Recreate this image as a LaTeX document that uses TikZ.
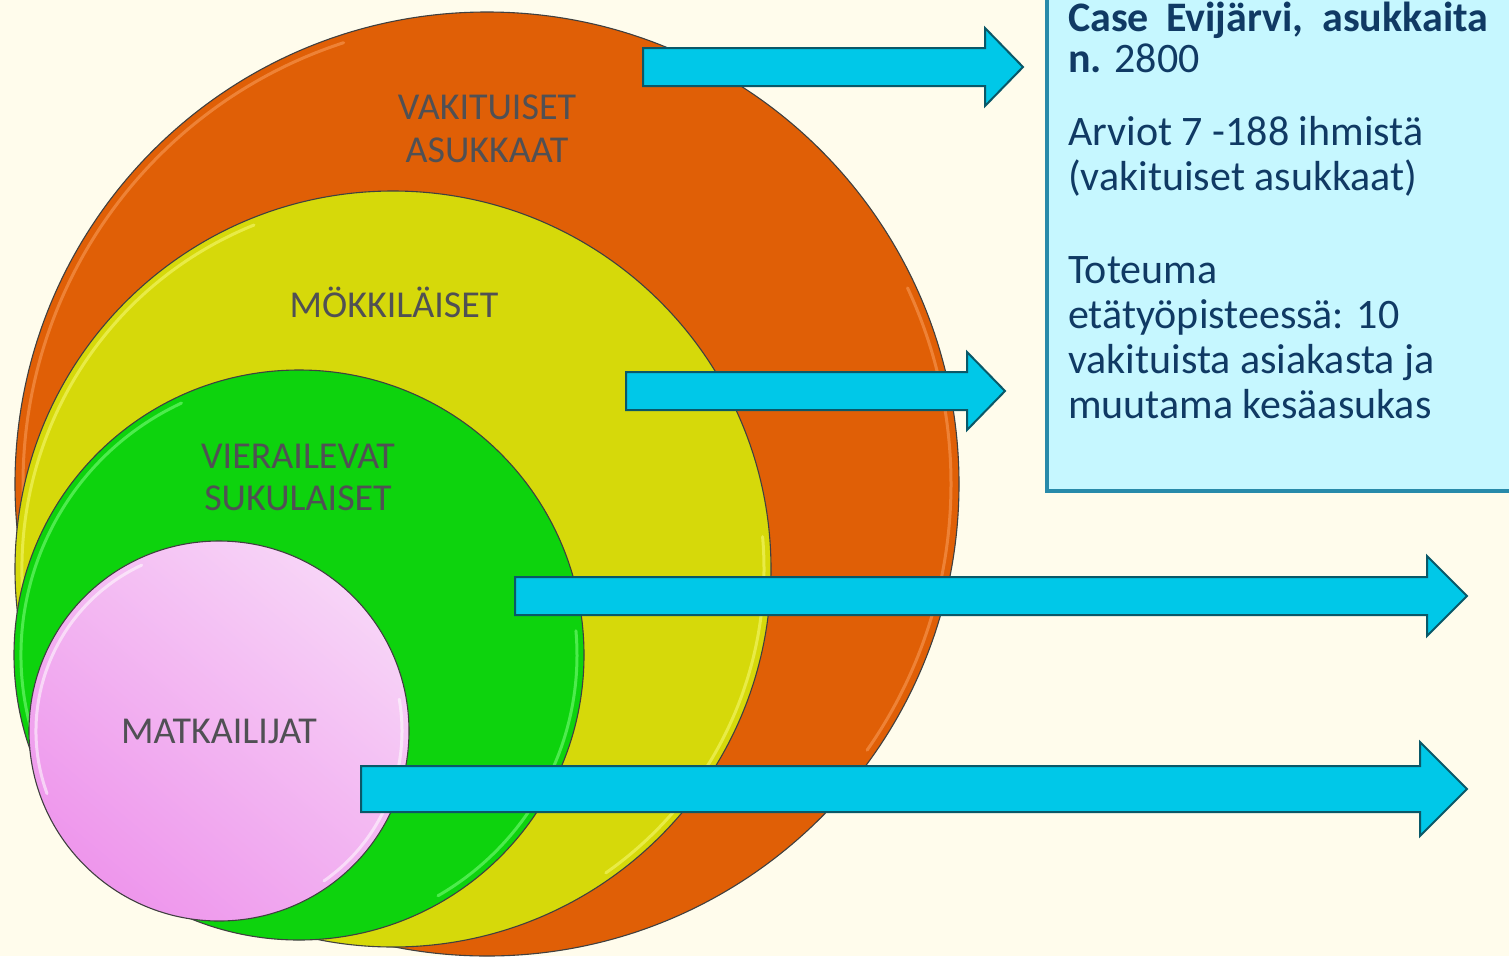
\documentclass[tikz,border=0pt]{standalone}
\usepackage{fontspec}
\setmainfont{Carlito}
\definecolor{bg}{RGB}{255,252,236}
\definecolor{orng}{RGB}{224,95,6}
\definecolor{orngH}{RGB}{250,160,95}
\definecolor{ylw}{RGB}{214,217,10}
\definecolor{ylwH}{RGB}{248,250,120}
\definecolor{grn}{RGB}{13,211,13}
\definecolor{grnH}{RGB}{130,255,130}
\definecolor{pinkL}{RGB}{247,212,247}
\definecolor{pinkD}{RGB}{238,150,236}
\definecolor{cyanA}{RGB}{0,200,232}
\definecolor{tealB}{RGB}{10,88,104}
\definecolor{boxF}{RGB}{198,247,255}
\definecolor{boxB}{RGB}{40,138,170}
\definecolor{navy}{RGB}{16,58,100}
\definecolor{lbl}{RGB}{80,80,84}
\begin{document}
\begin{tikzpicture}[x=1pt,y=-1pt,
  ring/.style={draw=black!75, line width=1.1pt},
  hl/.style={line width=3pt, opacity=0.55, line cap=round},
  lab/.style={text=lbl, font=\fontsize{38}{45}\selectfont, anchor=base, inner sep=0pt},
  barrow/.style={fill=cyanA, draw=tealB, line width=2pt, line join=miter},
  boxtxt/.style={text=navy, font=\fontsize{42}{46}\selectfont, anchor=base west, inner sep=0pt}]
\useasboundingbox (0,0) rectangle (1509,956);
\fill[bg] (0,0) rectangle (1509,956);
\clip (0,0) rectangle (1509,956);

% circle centres
\coordinate (oc) at (487,484);
\coordinate (yc) at (393,569);
\coordinate (gc) at (299,655);
\coordinate (pc) at (219,731);

% orange
\fill[orng] (oc) circle[radius=472pt];
\draw[hl, draw=orngH] (oc) ++(108:464pt) arc[start angle=108, end angle=200, radius=464pt];
\draw[hl, draw=orngH] (oc) ++(25:464pt) arc[start angle=25, end angle=-35, radius=464pt];
\draw[ring] (oc) circle[radius=472pt];

% yellow
\fill[ylw] (yc) circle[radius=378pt];
\draw[hl, draw=ylwH] (yc) ++(112:371pt) arc[start angle=112, end angle=200, radius=371pt];
\draw[hl, draw=ylwH] (yc) ++(5:371pt) arc[start angle=5, end angle=-55, radius=371pt];
\draw[ring] (yc) circle[radius=378pt];

% green
\fill[grn] (gc) circle[radius=285pt];
\draw[hl, draw=grnH] (gc) ++(115:278pt) arc[start angle=115, end angle=200, radius=278pt];
\draw[hl, draw=grnH] (gc) ++(5:278pt) arc[start angle=5, end angle=-60, radius=278pt];
\draw[ring] (gc) circle[radius=285pt];

% pink
\shade[shading=axis, top color=pinkL, bottom color=pinkD, shading angle=-40] (pc) circle[radius=190pt];
\draw[hl, draw=white] (pc) ++(115:183pt) arc[start angle=115, end angle=200, radius=183pt];
\draw[hl, draw=white] (pc) ++(10:183pt) arc[start angle=10, end angle=-55, radius=183pt];
\draw[ring] (pc) circle[radius=190pt];

% labels
\node[lab] (vak1) at (487,119) {VAKITUISET};
\node[lab] (vak2) at (487,162) {ASUKKAAT};
\node[lab] (mok) at (394,317) {MÖKKILÄISET};
\node[lab] (vie1) at (298,468) {VIERAILEVAT};
\node[lab] (vie2) at (298,510) {SUKULAISET};
\node[lab] (mat) at (219,743) {MATKAILIJAT};

% text box
\draw[fill=boxF, draw=boxB, line width=4pt] (1047,-20) rectangle (1530,491);
\node[boxtxt] (t1) at (1068,31) {\textbf{\makebox[420pt][s]{Case Evijärvi, asukkaita}}};
\node[boxtxt] (t2) at (1068,72) {\textbf{n.} 2800};
\node[boxtxt] (t3) at (1068,145) {Arviot 7 -188 ihmistä};
\node[boxtxt] (t4) at (1068,190) {(vakituiset asukkaat)};
\node[boxtxt] (t5) at (1068,283) {Toteuma};
\node[boxtxt] (t6) at (1068,328) {etätyöpisteessä: 10};
\node[boxtxt] (t7) at (1068,373) {vakituista asiakasta ja};
\node[boxtxt] (t8) at (1068,418) {muutama kesäasukas};

% block arrows
\draw[barrow] (643,48) -- (985,48) -- (985,28) -- (1023,67) -- (985,106) -- (985,86) -- (643,86) -- cycle;
\draw[barrow] (626,372) -- (967,372) -- (967,352) -- (1005,391) -- (967,430) -- (967,410) -- (626,410) -- cycle;
\draw[barrow] (515,577) -- (1427,577) -- (1427,556) -- (1467,596) -- (1427,636) -- (1427,615) -- (515,615) -- cycle;
\draw[barrow] (361,766) -- (1420,766) -- (1420,742) -- (1467,789) -- (1420,836) -- (1420,812) -- (361,812) -- cycle;
\end{tikzpicture}
\end{document}
